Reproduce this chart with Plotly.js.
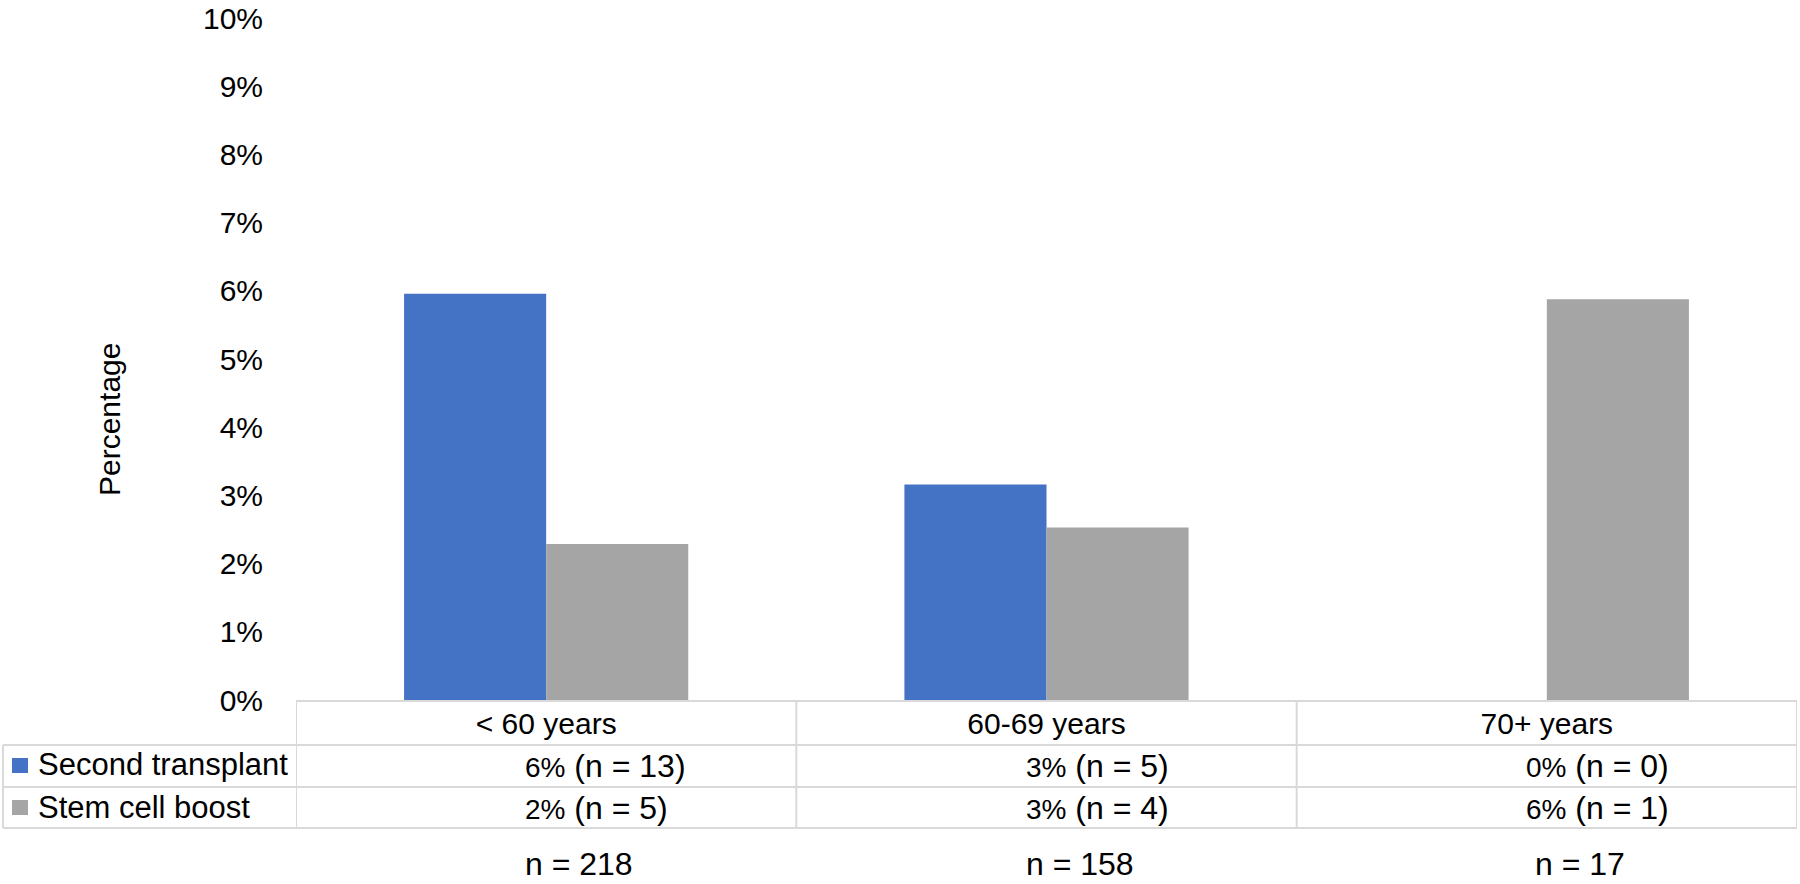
<!DOCTYPE html>
<html>
<head>
<meta charset="utf-8">
<script src="https://cdn.plot.ly/plotly-3.0.1.min.js"></script>
<style>html,body{margin:0;padding:0;background:#fff;}#chart{width:1800px;height:884px;}</style>
</head>
<body>
<div id="chart"></div>
<script>
// ---- data ----
const categories = ['< 60 years', '60-69 years', '70+ years'];
const seriesNames = ['Second transplant', 'Stem cell boost'];
const secondTransplantPct = [5.96, 3.16, 0];
const stemCellBoostPct = [2.29, 2.53, 5.88];
const secondTransplantLabel = ['6%', '3%', '0%'];
const secondTransplantN = [13, 5, 0];
const stemCellBoostLabel = ['2%', '3%', '6%'];
const stemCellBoostN = [5, 4, 1];
const totalN = [218, 158, 17];
const yTickVals = [0,1,2,3,4,5,6,7,8,9,10];
const yTickText = ['0%','1%','2%','3%','4%','5%','6%','7%','8%','9%','10%'];

// ---- geometry helpers (pixel -> paper) ----
const W = 1800, H = 884;
const M = {l: 296, r: 3, t: 18, b: 184};
const PW = W - M.l - M.r, PH = H - M.t - M.b;
const px = x => (x - M.l) / PW;
const py = y => (H - M.b - y) / PH;

const FONT = 'Liberation Sans, Arial, sans-serif';
const BLUE = '#4472C4', GRAY = '#A5A5A5', LINE = '#D9D9D9';
const colors = [BLUE, GRAY];

const traces = [
  {type: 'bar', name: seriesNames[0], x: categories, y: secondTransplantPct,
   marker: {color: BLUE, line: {width: 0}}, hoverinfo: 'skip'},
  {type: 'bar', name: seriesNames[1], x: categories, y: stemCellBoostPct,
   marker: {color: GRAY, line: {width: 0}}, hoverinfo: 'skip'}
];

const shapes = [];
// column separators of the table (category boundaries)
[-0.5, 0.5, 1.5, 2.5].forEach(v => shapes.push({type: 'line', xref: 'x', yref: 'paper',
  x0: v, x1: v, y0: 0, y1: py(828), line: {color: LINE, width: 2}}));
// row lines spanning legend column too
[745, 787, 828].forEach(r => shapes.push({type: 'line', xref: 'paper', yref: 'paper',
  x0: px(3), x1: 1, y0: py(r), y1: py(r), line: {color: LINE, width: 2}}));
shapes.push({type: 'line', xref: 'paper', yref: 'paper', x0: px(3), x1: px(3),
  y0: py(745), y1: py(828), line: {color: LINE, width: 2}});

const annotations = [];
// legend keys inside the table
const rowCenters = [765, 807];
seriesNames.forEach((name, k) => {
  const c = rowCenters[k];
  shapes.push({type: 'rect', xref: 'paper', yref: 'paper', x0: px(12), x1: px(28),
    y0: py(c + 8), y1: py(c - 7), fillcolor: colors[k], line: {width: 0}});
  annotations.push({text: name, xref: 'paper', yref: 'paper', x: px(36), y: py(c),
    xanchor: 'left', yanchor: 'middle', showarrow: false,
    font: {family: FONT, size: 31, color: '#000'}});
});

annotations.push({text: 'Percentage', textangle: -90, xref: 'paper', yref: 'paper',
  x: px(110), y: py(420), xanchor: 'center', yanchor: 'middle', showarrow: false,
  font: {family: FONT, size: 30, color: '#000'}});
categories.forEach((c, i) => {
  annotations.push({xref: 'x', yref: 'paper', x: i, xshift: -23, y: py(766), xanchor: 'left', yanchor: 'middle',
    showarrow: false, font: {family: FONT, size: 32, color: '#000'},
    text: '<span style="font-size:28px">' + secondTransplantLabel[i] + '</span> (n = ' + secondTransplantN[i] + ')'});
  annotations.push({xref: 'x', yref: 'paper', x: i, xshift: -23, y: py(808), xanchor: 'left', yanchor: 'middle',
    showarrow: false, font: {family: FONT, size: 32, color: '#000'},
    text: '<span style="font-size:28px">' + stemCellBoostLabel[i] + '</span> (n = ' + stemCellBoostN[i] + ')'});
  annotations.push({xref: 'x', yref: 'paper', x: i, xshift: 33, y: py(864), xanchor: 'center', yanchor: 'middle',
    showarrow: false, font: {family: FONT, size: 32, color: '#000'},
    text: 'n = ' + totalN[i]});
});

const layout = {
  width: W, height: H,
  margin: M,
  paper_bgcolor: '#fff', plot_bgcolor: '#fff',
  font: {family: FONT, color: '#000'},
  barmode: 'group', bargap: 0.432, bargroupgap: 0,
  showlegend: false,
  xaxis: {type: 'category', range: [-0.5, 2.5], showgrid: false, zeroline: false,
    showline: true, linecolor: LINE, linewidth: 2,
    ticks: 'outside', ticklen: 0, tickcolor: 'rgba(0,0,0,0)', ticklabelstandoff: -4,
    tickfont: {family: FONT, size: 30, color: '#000'}},
  yaxis: {range: [0, 10.004], tickvals: yTickVals, ticktext: yTickText,
    showgrid: false, zeroline: false, showline: false, ticklabeloverflow: 'allow',
    ticks: 'outside', ticklen: 26, tickcolor: 'rgba(0,0,0,0)',
    tickfont: {family: FONT, size: 30, color: '#000'}},
  shapes: shapes,
  annotations: annotations
};

Plotly.newPlot('chart', traces, layout, {displayModeBar: false, staticPlot: true});
</script>
</body>
</html>
